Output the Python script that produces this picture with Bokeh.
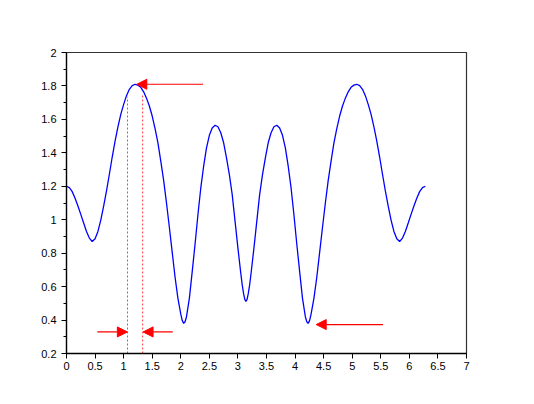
from bokeh.plotting import figure
from bokeh.models import Range1d, FixedTicker, NumeralTickFormatter, Arrow, NormalHead
from bokeh.embed import file_html
from bokeh.resources import INLINE

# ---- curve samples ----
x_vals = [0.00, 0.05, 0.10, 0.15, 0.20, 0.25, 0.30, 0.35, 0.40, 0.45,
          0.50, 0.55, 0.60, 0.65, 0.70, 0.75, 0.80, 0.85, 0.90, 0.95,
          1.00, 1.05, 1.10, 1.15, 1.20, 1.25, 1.30, 1.35, 1.40, 1.45,
          1.50, 1.55, 1.60, 1.65, 1.70, 1.75, 1.80, 1.85, 1.90, 1.95,
          2.00, 2.025, 2.05, 2.075, 2.10, 2.15, 2.20, 2.25, 2.30, 2.35, 2.40, 2.45,
          2.50, 2.55, 2.60, 2.65, 2.70, 2.75, 2.80, 2.85, 2.90, 2.95,
          3.00, 3.05, 3.075, 3.10, 3.12, 3.14,
          3.16, 3.18, 3.205, 3.23, 3.28, 3.33, 3.38, 3.43, 3.48, 3.53, 3.58, 3.63,
          3.68, 3.73, 3.78, 3.83, 3.88, 3.93, 3.98, 4.03, 4.08, 4.13,
          4.18, 4.205, 4.23, 4.255, 4.28, 4.33, 4.38, 4.43, 4.48, 4.53, 4.58, 4.63,
          4.68, 4.73, 4.78, 4.83, 4.88, 4.93, 4.98, 5.03, 5.08, 5.13,
          5.18, 5.23, 5.28, 5.33, 5.38, 5.43, 5.48, 5.53, 5.58, 5.63,
          5.68, 5.73, 5.78, 5.83, 5.88, 5.93, 5.98, 6.03, 6.08, 6.13,
          6.18, 6.23, 6.28]
y_vals = [1.200, 1.192, 1.168, 1.128, 1.082, 1.032, 0.980, 0.930, 0.890, 0.870,
          0.886, 0.930, 0.998, 1.082, 1.172, 1.272, 1.375, 1.470, 1.555, 1.630,
          1.690, 1.742, 1.780, 1.802, 1.810, 1.805, 1.792, 1.765, 1.727, 1.680,
          1.620, 1.545, 1.460, 1.350, 1.235, 1.100, 0.955, 0.805, 0.656, 0.530,
          0.435, 0.398, 0.380, 0.390, 0.420, 0.530, 0.690, 0.855, 1.030, 1.190, 1.320, 1.430,
          1.505, 1.548, 1.565, 1.556, 1.520, 1.460, 1.370, 1.270, 1.150, 0.990,
          0.830, 0.680, 0.610, 0.556, 0.524, 0.512,
          0.524, 0.556, 0.610, 0.680, 0.830, 0.990, 1.150, 1.270, 1.370, 1.460, 1.520, 1.556,
          1.565, 1.548, 1.505, 1.430, 1.320, 1.190, 1.030, 0.855, 0.690, 0.530,
          0.420, 0.390, 0.380, 0.398, 0.435, 0.530, 0.656, 0.805, 0.955, 1.100, 1.235, 1.350,
          1.460, 1.545, 1.620, 1.680, 1.727, 1.765, 1.792, 1.805, 1.810, 1.802,
          1.780, 1.742, 1.690, 1.630, 1.555, 1.470, 1.375, 1.272, 1.172, 1.082,
          0.998, 0.930, 0.886, 0.870, 0.890, 0.930, 0.980, 1.032, 1.082, 1.128,
          1.168, 1.192, 1.200]

# ---- annotations ----
arrow_x_start = [2.39, 5.54, 0.54, 1.86]
arrow_x_end = [1.23, 4.37, 1.065, 1.34]
arrow_y = [1.81, 0.373, 0.329, 0.329]

vline_x = [1.068, 1.333]
vline_y_bottom = [0.2, 0.2]
vline_y_top = [1.735, 1.755]

# ---- axes ----
x_ticks = [0, 0.5, 1, 1.5, 2, 2.5, 3, 3.5, 4, 4.5, 5, 5.5, 6, 6.5, 7]
y_ticks = [0.2, 0.4, 0.6, 0.8, 1.0, 1.2, 1.4, 1.6, 1.8, 2.0]
y_minor = [0.3, 0.5, 0.7, 0.9, 1.1, 1.3, 1.5, 1.7, 1.9]

FONT = "Liberation Sans"

p = figure(width=526, height=396, x_range=Range1d(0, 7), y_range=Range1d(0.2, 2.0),
           output_backend="svg", toolbar_location=None,
           min_border_left=66, min_border_right=60, min_border_top=52, min_border_bottom=43)
p.background_fill_color = "white"
p.border_fill_color = "white"
p.xgrid.visible = False
p.ygrid.visible = False
p.outline_line_color = "#333333"
p.outline_line_width = 1.2

for ax in (p.xaxis[0], p.yaxis[0]):
    ax.axis_line_color = "black"
    ax.axis_line_width = 1.3
    ax.major_tick_line_color = "black"
    ax.minor_tick_line_color = "black"
    ax.major_tick_out = 5
    ax.major_tick_in = 0
    ax.minor_tick_out = 3
    ax.minor_tick_in = 0
    ax.major_label_text_font = FONT
    ax.major_label_text_font_size = "11px"
    ax.major_label_text_color = "black"
    ax.formatter = NumeralTickFormatter(format="0.[0]")

p.xaxis.ticker = FixedTicker(ticks=x_ticks, minor_ticks=[])
p.yaxis.ticker = FixedTicker(ticks=y_ticks, minor_ticks=y_minor)
p.xaxis.major_label_standoff = 3
p.yaxis.major_label_standoff = 5

# curve
p.line(x_vals, y_vals, line_color="#0000ff", line_width=1.3)

# dotted vertical markers
p.segment(x0=vline_x, y0=vline_y_bottom, x1=vline_x, y1=vline_y_top,
          line_color="#ff4040", line_width=1, line_dash="2 2")

# arrows
for xs, xe, yy in zip(arrow_x_start, arrow_x_end, arrow_y):
    p.add_layout(Arrow(x_start=xs, y_start=yy, x_end=xe, y_end=yy,
                       line_color="#ff0000", line_width=1.2,
                       end=NormalHead(size=10, fill_color="#ff0000", line_color="#ff0000")))

open("out.html", "w").write(file_html(p, INLINE))
